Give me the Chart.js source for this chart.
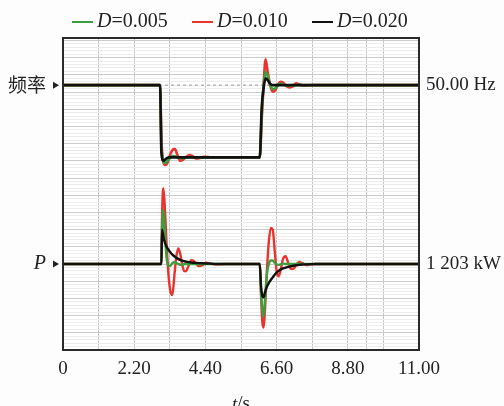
<!DOCTYPE html>
<html><head><meta charset="utf-8">
<script src="https://cdn.jsdelivr.net/npm/chart.js@4.4.1/dist/chart.umd.min.js"></script>
<style>html,body{margin:0;padding:0;background:#fdfdfd;}canvas{display:block;}</style>
</head><body>
<canvas id="c" width="504" height="406"></canvas>
<script>
// ---- data ----
const legendValues = ['0.005', '0.010', '0.020'];
const xTickLabels = ['0', '2.20', '4.40', '6.60', '8.80', '11.00'];
const leftLabels = ['频率', 'P'];
const rightLabels = ['50.00 Hz', '1 203 kW'];
const freqBase = 15.4;
const powBase = 5.0;

// frequency traces (display units)
const tF = [0, 3.00, 3.04, 3.10, 3.16, 3.22, 3.30, 3.38, 3.46, 3.54, 3.62, 3.70, 3.80, 3.90, 4.00, 4.10, 4.20, 4.35, 4.60,
            6.08, 6.14, 6.20, 6.26, 6.32, 6.40, 6.48, 6.56, 6.64, 6.72, 6.80, 6.90, 7.00, 7.10, 7.20, 7.30, 7.45, 7.70, 11.00];
const freqGreen = [15.4, 15.4, 11.9, 11.0, 10.87, 10.98, 11.15, 11.28, 11.27, 11.2, 11.15, 11.16, 11.2, 11.22, 11.2, 11.2, 11.2, 11.2, 11.2,
                   11.2, 13.7, 15.4, 16.18, 15.95, 15.45, 15.17, 15.22, 15.4, 15.48, 15.45, 15.38, 15.38, 15.4, 15.4, 15.4, 15.4, 15.4, 15.4];
const freqRed = [15.4, 15.4, 12.3, 10.95, 10.76, 10.85, 11.3, 11.62, 11.68, 11.3, 11.0, 11.05, 11.22, 11.34, 11.28, 11.14, 11.15, 11.23, 11.2,
                 11.2, 13.4, 15.5, 16.9, 16.2, 15.4, 15.02, 15.1, 15.42, 15.6, 15.55, 15.35, 15.27, 15.32, 15.5, 15.45, 15.36, 15.4, 15.4];
const freqBlack = [15.4, 15.4, 11.5, 11.0, 11.08, 11.17, 11.2, 11.2, 11.2, 11.2, 11.2, 11.2, 11.2, 11.2, 11.2, 11.2, 11.2, 11.2, 11.2,
                   11.2, 14.1, 15.25, 15.8, 15.7, 15.48, 15.4, 15.4, 15.4, 15.4, 15.4, 15.4, 15.4, 15.4, 15.4, 15.4, 15.4, 15.4, 15.4];

// power traces (display units)
const tP = [0, 3.04, 3.06, 3.10, 3.14, 3.20, 3.26, 3.32, 3.38, 3.44, 3.50, 3.56, 3.62, 3.68, 3.74, 3.80, 3.88, 3.96, 4.04, 4.12, 4.20, 4.30, 4.42, 4.55, 4.70, 5.00,
            6.08, 6.12, 6.16, 6.20, 6.24, 6.30, 6.36, 6.42, 6.48, 6.54, 6.60, 6.66, 6.72, 6.80, 6.88, 6.96, 7.04, 7.12, 7.20, 7.30, 7.40, 7.52, 7.65, 7.80, 8.00, 11.00];
const powGreen = [5.0, 5.0, 7.0, 8.14, 7.0, 5.35, 4.88, 4.9, 5.05, 5.1, 5.06, 5.0, 4.96, 4.96, 5.0, 5.0, 5.0, 5.0, 5.0, 5.0, 5.0, 5.0, 5.0, 5.0, 5.0, 5.0,
                  5.0, 3.4, 2.3, 1.94, 2.9, 4.4, 5.0, 5.2, 5.2, 5.08, 4.98, 4.95, 4.98, 5.02, 5.0, 5.0, 5.0, 5.0, 5.0, 5.0, 5.0, 5.0, 5.0, 5.0, 5.0, 5.0];
const powRed = [5.0, 5.0, 7.7, 9.4, 8.5, 6.2, 4.35, 3.4, 3.2, 4.3, 5.4, 5.9, 5.62, 5.0, 4.6, 4.58, 4.9, 5.22, 5.18, 5.0, 4.88, 4.92, 5.08, 5.04, 4.97, 5.0,
                5.0, 3.1, 1.6, 1.3, 2.3, 4.6, 6.3, 7.1, 7.0, 5.8, 4.6, 4.28, 4.6, 5.3, 5.45, 5.05, 4.72, 4.72, 4.95, 5.12, 5.05, 4.94, 4.97, 5.0, 5.0, 5.0];
const powBlack = [5.0, 5.0, 7.0, 6.6, 6.3, 6.0, 5.82, 5.67, 5.55, 5.45, 5.37, 5.3, 5.24, 5.2, 5.17, 5.14, 5.11, 5.09, 5.07, 5.06, 5.05, 5.04, 5.03, 5.02, 5.01, 5.0,
                  5.0, 3.7, 3.15, 3.06, 3.35, 3.68, 3.9, 4.07, 4.22, 4.38, 4.5, 4.6, 4.67, 4.74, 4.79, 4.83, 4.87, 4.9, 4.93, 4.95, 4.97, 4.98, 4.99, 5.0, 5.0, 5.0];

const xGridValues = [0, 1.1, 2.2, 3.3, 4.4, 5.5, 6.6, 7.7, 8.8, 9.38, 9.9, 11];

// ---- styles ----
const GREEN = '#3c9e3c', RED = '#e8342c', BLACK = '#111111';
const SERIF = "'Liberation Serif','Times New Roman',serif";

function pts(t, v) { return t.map((x, i) => ({ x: x, y: v[i] })); }
function line(label, t, v, color, w, order) {
  return { label, data: pts(t, v), borderColor: color, borderWidth: w, pointRadius: 0,
           cubicInterpolationMode: 'monotone', fill: false, order, borderJoinStyle: 'round', borderCapStyle: 'round' };
}

const decor = {
  id: 'decor',
  beforeDraw(chart) {
    const { ctx, chartArea: a } = chart;
    ctx.save();
    ctx.fillStyle = '#ffffff';
    ctx.fillRect(a.left, a.top, a.right - a.left, a.bottom - a.top);
    ctx.restore();
  },
  afterDraw(chart) {
    const { ctx, chartArea: a, scales } = chart;
    const y = scales.y;
    ctx.save();
    // border
    ctx.strokeStyle = '#2a2a2a';
    ctx.lineWidth = 2;
    ctx.strokeRect(a.left, a.top, a.right - a.left, a.bottom - a.top);

    const fy = y.getPixelForValue(freqBase);
    const py = y.getPixelForValue(powBase);
    ctx.fillStyle = '#222';
    ctx.textBaseline = 'middle';
    // left labels
    ctx.textAlign = 'right';
    ctx.font = "19px 'Noto Sans CJK SC',sans-serif";
    ctx.fillText(leftLabels[0], 46, fy);
    ctx.font = "italic 20px " + SERIF;
    ctx.fillText(leftLabels[1], 46, py);
    // small triangles
    [fy, py].forEach(yy => {
      ctx.beginPath();
      ctx.moveTo(53, yy - 3.5); ctx.lineTo(59, yy); ctx.lineTo(53, yy + 3.5); ctx.closePath(); ctx.fill();
    });
    // right labels
    ctx.textAlign = 'left';
    ctx.font = "19px " + SERIF;
    ctx.fillText(rightLabels[0], 426, fy);
    ctx.fillText(rightLabels[1], 426, py);

    // legend
    const colors = [GREEN, RED, BLACK];
    const lx = [72, 192, 312];
    const ly = 22;
    colors.forEach((c, i) => {
      ctx.strokeStyle = c; ctx.lineWidth = 2;
      ctx.beginPath(); ctx.moveTo(lx[i], ly); ctx.lineTo(lx[i] + 21, ly); ctx.stroke();
      let x = lx[i] + 25;
      ctx.fillStyle = '#222';
      ctx.font = "italic 20px " + SERIF;
      ctx.fillText('D', x, ly);
      x += ctx.measureText('D').width;
      ctx.font = "20px " + SERIF;
      ctx.fillText('=' + legendValues[i], x, ly);
    });

    // x title
    ctx.textBaseline = 'top';
    ctx.font = "italic 19px " + SERIF;
    const w1 = ctx.measureText('t').width;
    ctx.font = "19px " + SERIF;
    const w2 = ctx.measureText('/s').width;
    const cx = (a.left + a.right) / 2 - (w1 + w2) / 2;
    ctx.font = "italic 19px " + SERIF;
    ctx.fillText('t', cx, 395);
    ctx.font = "19px " + SERIF;
    ctx.fillText('/s', cx + w1, 395);
    ctx.restore();
  }
};

new Chart(document.getElementById('c'), {
  type: 'line',
  data: {
    datasets: [
      { label: 'ref', data: [{ x: 0, y: freqBase }, { x: 11, y: freqBase }], borderColor: '#9a9a9a', borderWidth: 1, borderDash: [3, 3], pointRadius: 0, order: 9 },
      line('fG', tF, freqGreen, GREEN, 2.6, 2),
      line('fR', tF, freqRed, RED, 2.6, 3),
      line('fB', tF, freqBlack, BLACK, 2.6, 1),
      line('pG', tP, powGreen, GREEN, 2.4, 2),
      line('pR', tP, powRed, RED, 2.4, 3),
      line('pB', tP, powBlack, BLACK, 2.4, 1)
    ]
  },
  options: {
    responsive: false,
    animation: false,
    devicePixelRatio: 1,
    layout: { padding: { left: 63, right: 85, top: 38, bottom: 0 } },
    plugins: { legend: { display: false }, tooltip: { enabled: false } },
    scales: {
      x: {
        type: 'linear', min: 0, max: 11,
        afterBuildTicks: s => { s.ticks = xGridValues.map(v => ({ value: v })); },
        afterFit: s => { s.height = 56; },
        border: { display: false },
        grid: { color: '#c6c6c6', lineWidth: 1, drawTicks: false },
        ticks: {
          autoSkip: false, maxRotation: 0, padding: 8, color: '#222',
          font: { family: SERIF, size: 19 },
          callback: v => {
            const k = v / 2.2;
            return Math.abs(k - Math.round(k)) < 1e-6 ? xTickLabels[Math.round(k)] : '';
          }
        }
      },
      y: {
        type: 'linear', min: 0, max: 18.14,
        afterBuildTicks: s => { const a = []; for (let i = 0; i <= 90; i++) a.push({ value: i * 0.2 }); s.ticks = a; },
        afterFit: s => { s.width = 0; },
        border: { display: false },
        grid: {
          drawTicks: false,
          color: c => (Math.abs(c.tick.value - Math.round(c.tick.value)) < 1e-6 ? '#cbcbcb' : '#ececec'),
          lineWidth: 1
        },
        ticks: { display: false }
      }
    }
  },
  plugins: [decor]
});
</script>
</body></html>
